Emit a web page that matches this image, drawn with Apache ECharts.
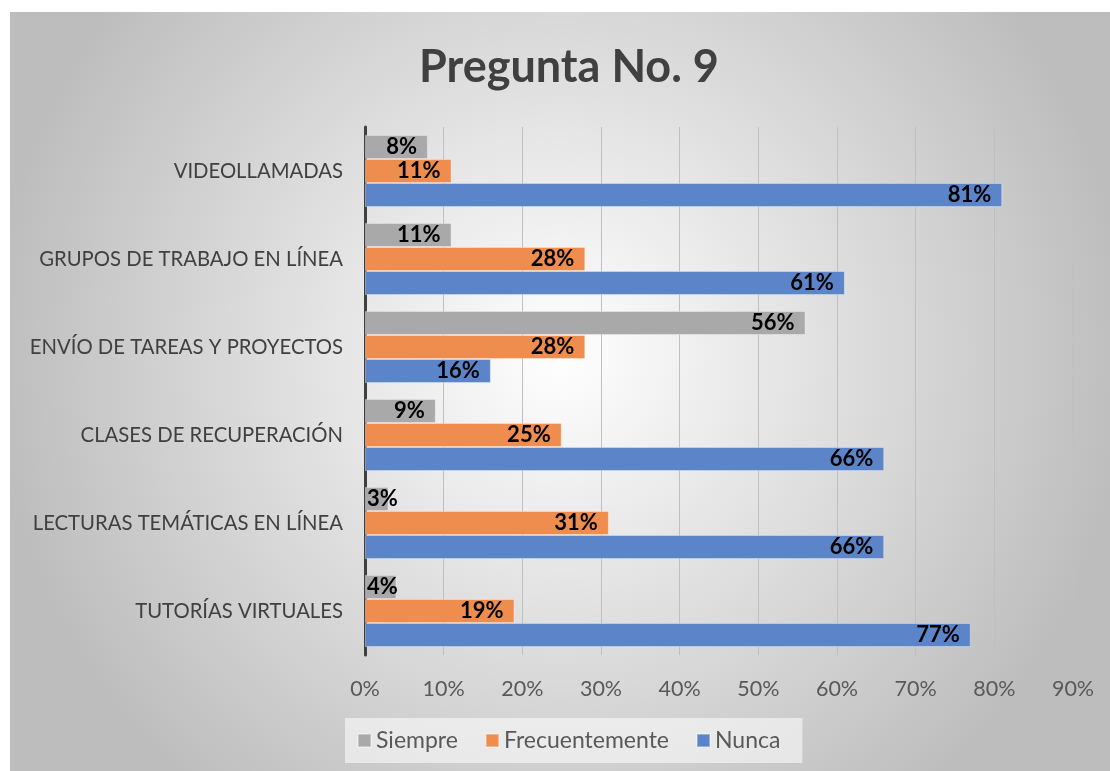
<!DOCTYPE html>
<html>
<head>
<meta charset="utf-8">
<script src="https://cdn.jsdelivr.net/npm/echarts@6/dist/echarts.min.js"></script>
<style>
  body { margin: 0; background: #fff; }
  #main { position: absolute; left: 10px; top: 12px; width: 1100px; height: 759px; }
</style>
</head>
<body>
<div id="main"></div>
<script>
// datos
var categorias = ['VIDEOLLAMADAS', 'GRUPOS DE TRABAJO EN LÍNEA', 'ENVÍO DE TAREAS Y PROYECTOS',
  'CLASES DE RECUPERACIÓN', 'LECTURAS TEMÁTICAS EN LÍNEA', 'TUTORÍAS VIRTUALES'];
var siempre = [8, 11, 56, 9, 3, 4];
var frecuentemente = [11, 28, 28, 25, 31, 19];
var nunca = [81, 61, 16, 66, 66, 77];
var ticks = [0, 10, 20, 30, 40, 50, 60, 70, 80, 90];

var fuente = 'Lato';

function serie(name, valores, color) {
  return {
    name: name,
    type: 'bar',
    barGap: '0%',
    barCategoryGap: '18%',
    itemStyle: { color: color, borderColor: 'rgba(255,255,255,0.35)', borderWidth: 1 },
    label: {
      show: true,
      position: 'insideRight',
      distance: 11,
      formatter: '{c}%',
      color: '#000',
      fontWeight: 'bold',
      fontSize: 22,
      fontFamily: fuente
    },
    data: valores.map(function (v) {
      // las barras muy cortas llevan la etiqueta desde el eje
      return v < 6 ? { value: v, label: { position: 'insideLeft', distance: 2 } } : v;
    })
  };
}

var chart = echarts.init(document.getElementById('main'));
var option = {
  backgroundColor: new echarts.graphic.RadialGradient(0.5, 0.45, 0.75, [
    { offset: 0, color: '#ffffff' },
    { offset: 1, color: '#bdbdbd' }
  ]),
  animation: false,
  title: {
    text: 'Pregunta No. 9',
    left: 404,
    top: 28,
    textStyle: { fontFamily: fuente, fontSize: 45, fontWeight: 'bold', color: '#404040' }
  },
  legend: {
    left: 335,
    top: 706,
    itemWidth: 13,
    itemHeight: 13,
    itemGap: 27,
    padding: [11, 22, 11, 12],
    backgroundColor: 'rgba(255,255,255,0.55)',
    icon: 'rect',
    textStyle: { fontFamily: fuente, fontSize: 23, color: '#595959' },
    data: ['Siempre', 'Frecuentemente', 'Nunca']
  },
  grid: { left: 355, right: 37, top: 115, bottom: 116 },
  xAxis: {
    type: 'value',
    min: ticks[0],
    max: ticks[ticks.length - 1],
    interval: 10,
    axisLine: { show: false },
    axisTick: { show: false },
    splitLine: { show: true, lineStyle: { color: '#bfbfbf', width: 1 } },
    axisLabel: { formatter: '{value}%', margin: 23, fontFamily: fuente, fontSize: 21.5, color: '#595959' }
  },
  yAxis: {
    type: 'category',
    inverse: true,
    data: categorias,
    axisLine: { show: true, lineStyle: { color: '#404040', width: 3 } },
    axisTick: { show: false },
    axisLabel: { margin: 22, fontFamily: fuente, fontSize: 20.3, color: '#404040' }
  },
  series: [
    serie('Siempre', siempre, '#a9a9a9'),
    serie('Frecuentemente', frecuentemente, '#ee8d4d'),
    serie('Nunca', nunca, '#5b84c9')
  ]
};
chart.setOption(option);
</script>
</body>
</html>
